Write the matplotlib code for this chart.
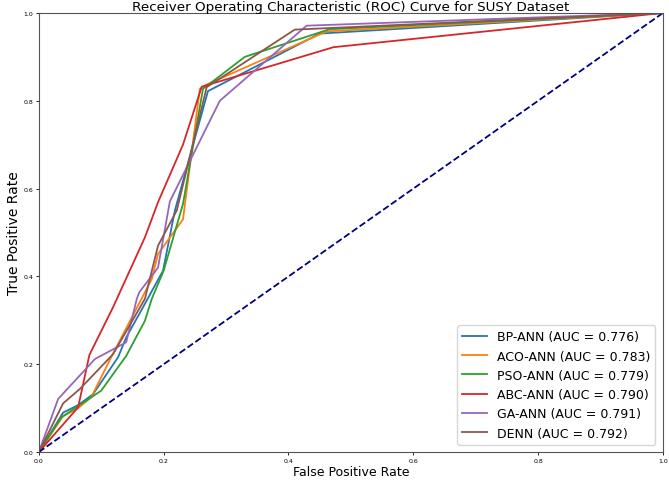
import matplotlib
matplotlib.use("Agg")
import matplotlib.pyplot as plt

# ROC points (fpr, tpr)
bp_fpr = [0.0, 0.039, 0.063, 0.087, 0.127, 0.14, 0.167, 0.199, 0.218, 0.271, 0.45, 1.0]
bp_tpr = [0.0, 0.090, 0.107, 0.132, 0.216, 0.261, 0.33, 0.413, 0.55, 0.822, 0.953, 1.0]

aco_fpr = [0.0, 0.039, 0.063, 0.084, 0.117, 0.181, 0.191, 0.231, 0.258, 0.269, 0.461, 1.0]
aco_tpr = [0.0, 0.082, 0.100, 0.125, 0.219, 0.394, 0.451, 0.530, 0.827, 0.837, 0.958, 1.0]

pso_fpr = [0.0, 0.036, 0.10, 0.14, 0.17, 0.181, 0.2, 0.231, 0.263, 0.33, 0.466, 1.0]
pso_tpr = [0.0, 0.079, 0.14, 0.219, 0.299, 0.349, 0.413, 0.565, 0.827, 0.90, 0.963, 1.0]

abc_fpr = [0.0, 0.063, 0.081, 0.119, 0.17, 0.191, 0.231, 0.261, 0.472, 1.0]
abc_tpr = [0.0, 0.102, 0.221, 0.33, 0.489, 0.569, 0.70, 0.832, 0.922, 1.0]

ga_fpr = [0.0, 0.031, 0.09, 0.14, 0.157, 0.161, 0.191, 0.21, 0.29, 0.429, 1.0]
ga_tpr = [0.0, 0.121, 0.212, 0.25, 0.349, 0.364, 0.42, 0.571, 0.80, 0.971, 1.0]

denn_fpr = [0.0, 0.039, 0.066, 0.119, 0.17, 0.191, 0.221, 0.269, 0.41, 1.0]
denn_tpr = [0.0, 0.111, 0.144, 0.223, 0.349, 0.47, 0.55, 0.831, 0.962, 1.0]

names = ["BP-ANN", "ACO-ANN", "PSO-ANN", "ABC-ANN", "GA-ANN", "DENN"]
aucs = [0.776, 0.783, 0.779, 0.790, 0.791, 0.792]
fprs = [bp_fpr, aco_fpr, pso_fpr, abc_fpr, ga_fpr, denn_fpr]
tprs = [bp_tpr, aco_tpr, pso_tpr, abc_tpr, ga_tpr, denn_tpr]

f = plt.figure(figsize=(6.69, 4.81), dpi=100)
ax = f.add_axes([0.058, 0.058, 0.933, 0.913])

for i in range(len(names)):
    ax.plot(fprs[i], tprs[i], lw=1.3, label="%s (AUC = %.3f)" % (names[i], aucs[i]))

ax.plot([0, 1], [0, 1], color="navy", lw=1.3, linestyle="--")

ax.set_xlim(0.0, 1.0)
ax.set_ylim(0.0, 1.0)
ax.tick_params(labelsize=4.5, length=2, width=0.6, pad=2)
ax.set_xlabel("False Positive Rate", fontsize=9, labelpad=2)
ax.set_ylabel("True Positive Rate", fontsize=10, labelpad=2)
ax.set_title("Receiver Operating Characteristic (ROC) Curve for SUSY Dataset", fontsize=9.7, pad=1)
for s in ax.spines.values():
    s.set_color("#555555")
ax.legend(loc="lower right", fontsize=9, borderaxespad=0.6)

plt.savefig("out.png")
plt.close(f)
